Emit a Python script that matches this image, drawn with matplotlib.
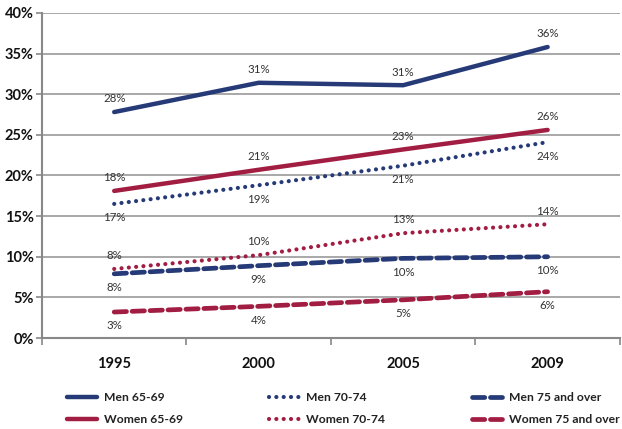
import matplotlib
matplotlib.use("Agg")
import matplotlib.pyplot as plt
from matplotlib.ticker import FixedLocator, PercentFormatter

years = ["1995", "2000", "2005", "2009"]
men_65_69 = [27.8, 31.4, 31.1, 35.8]
women_65_69 = [18.1, 20.7, 23.2, 25.6]
men_70_74 = [16.5, 18.8, 21.2, 24.1]
women_70_74 = [8.5, 10.2, 12.9, 14.0]
men_75 = [7.9, 8.9, 9.8, 10.0]
women_75 = [3.2, 3.9, 4.7, 5.7]

labels_m65 = ["28%", "31%", "31%", "36%"]
labels_w65 = ["18%", "21%", "23%", "26%"]
labels_m70 = ["17%", "19%", "21%", "24%"]
labels_w70 = ["8%", "10%", "13%", "14%"]
labels_m75 = ["8%", "9%", "10%", "10%"]
labels_w75 = ["3%", "4%", "5%", "6%"]

NAVY = "#253a76"
RED = "#a21d42"

plt.rcParams['font.family'] = ['Lato', 'DejaVu Sans']

fig = plt.figure(figsize=(6.22, 4.29), dpi=100)
ax = fig.add_axes([0.0675, 0.212, 0.929, 0.758])

x = list(range(len(years)))
series = [
    ("Men 65-69", men_65_69, labels_m65, NAVY, "-", 1),
    ("Women 65-69", women_65_69, labels_w65, RED, "-", 1),
    ("Men 70-74", men_70_74, labels_m70, NAVY, ":", -1),
    ("Women 70-74", women_70_74, labels_w70, RED, ":", 1),
    ("Men 75 and over", men_75, labels_m75, NAVY, "--", -1),
    ("Women 75 and over", women_75, labels_w75, RED, "--", -1),
]

handles = []
for name, vals, labs, col, ls, pos in series:
    if ls == "-":
        h, = ax.plot(x, vals, color=col, lw=3.2, solid_capstyle='round', label=name)
    elif ls == ":":
        h, = ax.plot(x, vals, color=col, lw=3.0, linestyle=(0, (0.01, 1.75)),
                     dash_capstyle='round', label=name)
    else:
        h, = ax.plot(x, vals, color=col, lw=3.4, linestyle=(0, (2.6, 1.2)),
                     dash_capstyle='round', label=name)
    handles.append(h)
    for xi, v, t in zip(x, vals, labs):
        off = 9.5 if pos > 0 else -10
        ax.annotate(t, (xi, v), xytext=(0, off), textcoords='offset points',
                    ha='center', va='center', fontsize=8.3, color='#333333')

ax.set_xlim(-0.5, 3.5)
ax.set_ylim(0, 40)
ax.yaxis.set_major_locator(FixedLocator([0, 5, 10, 15, 20, 25, 30, 35, 40]))
ax.yaxis.set_major_formatter(PercentFormatter(decimals=0))
ax.set_xticks(x)
ax.set_xticklabels(years)
ax.xaxis.set_minor_locator(FixedLocator([-0.5, 0.5, 1.5, 2.5, 3.5]))
ax.tick_params(axis='x', which='major', length=0, pad=14)
ax.tick_params(axis='x', which='minor', length=5, color='#888888', width=1.2)
ax.tick_params(axis='y', length=4, color='#888888', width=1.2, pad=2)
for lab in ax.get_xticklabels() + ax.get_yticklabels():
    lab.set_fontweight('bold')
    lab.set_fontsize(10.5)
    lab.set_color('#111111')

ax.grid(axis='y', color='#999999', lw=1.2)
ax.set_axisbelow(True)
for s in ['top', 'right']:
    ax.spines[s].set_visible(False)
for s in ['left', 'bottom']:
    ax.spines[s].set_color('#888888')
    ax.spines[s].set_linewidth(1.5)

# three legend columns anchored at the reference's handle positions
col_x = [67, 269, 472]
for i, cx in enumerate(col_x):
    lg = fig.legend(handles=handles[2 * i:2 * i + 2], loc='upper left',
                    bbox_to_anchor=(cx / 622, 1 - 392 / 429),
                    ncol=1, frameon=False, handlelength=2.5, borderpad=0,
                    borderaxespad=0, handletextpad=0.55, labelspacing=0.95,
                    prop={'weight': 'bold', 'size': 8.7})
    for t in lg.get_texts():
        t.set_color('#222222')

fig.savefig("out.png", dpi=100)
